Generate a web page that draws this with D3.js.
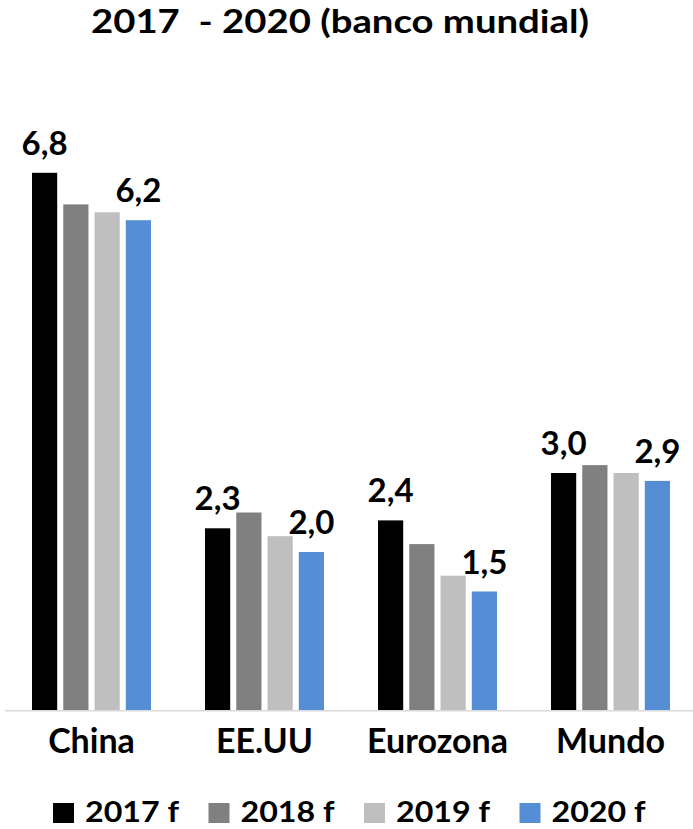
<!DOCTYPE html>
<html>
<head>
<meta charset="utf-8">
<script src="https://cdn.jsdelivr.net/npm/d3@7"></script>
<style>
  body { margin: 0; background: #fff; }
  text { font-family: Lato, "Open Sans", sans-serif; font-weight: bold; fill: #000; }
</style>
</head>
<body>
<svg id="chart"></svg>
<script>
// Data
const categories = ['China', 'EE.UU', 'Eurozona', 'Mundo'];
const series = ['2017 f', '2018 f', '2019 f', '2020 f'];
const values2017 = [6.8, 2.3, 2.4, 3.0];
const values2018 = [6.4, 2.5, 2.1, 3.1];
const values2019 = [6.3, 2.2, 1.7, 3.0];
const values2020 = [6.2, 2.0, 1.5, 2.9];
const seriesValues = [values2017, values2018, values2019, values2020];
const labelledSeries = ['2017 f', '2020 f']; // only these get value labels

const colors = ['#000000', '#808080', '#bfbfbf', '#558ed5'];

// Constants
const width = 693;
const height = 829;
const baseline = 710;

const svg = d3.select('#chart')
  .attr('width', width)
  .attr('height', height);

// Build table
const table = categories.map((c, i) => ({
  category: c,
  bars: series.map((s, j) => ({ series: s, value: seriesValues[j][i], color: colors[j] }))
}));

// Scales
const x0 = d3.scaleBand()
  .domain(categories)
  .range([5, 697])
  .paddingInner(54 / 173)
  .paddingOuter(27 / 173);

const x1 = d3.scaleBand()
  .domain(series)
  .range([0, x0.bandwidth()])
  .paddingInner(6 / 31);

const y = d3.scaleLinear()
  .domain([0, 8])
  .range([baseline, baseline - 79 * 8]);

const locale = d3.formatLocale({ decimal: ',', thousands: '.', grouping: [3], currency: ['', '€'] });
const fmt = locale.format('.1f');

// Title (stretched a bit to the width of the original heavier font)
svg.append('text')
  .attr('x', 340)
  .attr('y', 33)
  .attr('text-anchor', 'middle')
  .attr('font-size', '33px')
  .attr('textLength', 498)
  .attr('lengthAdjust', 'spacingAndGlyphs')
  .style('white-space', 'pre')
  .text('2017  - 2020 (banco mundial)');

// Bars
const groups = svg.selectAll('g.group')
  .data(table)
  .enter()
  .append('g')
  .attr('class', 'group')
  .attr('transform', d => `translate(${x0(d.category)},0)`);

groups.selectAll('rect')
  .data(d => d.bars)
  .enter()
  .append('rect')
  .attr('x', d => x1(d.series))
  .attr('y', d => y(d.value))
  .attr('width', x1.bandwidth())
  .attr('height', d => y(0) - y(d.value))
  .attr('fill', d => d.color);

groups.selectAll('text.value')
  .data(d => d.bars.filter(b => labelledSeries.includes(b.series)))
  .enter()
  .append('text')
  .attr('class', 'value')
  .attr('x', d => x1(d.series) + x1.bandwidth() / 2)
  .attr('y', d => y(d.value) - 18)
  .attr('text-anchor', 'middle')
  .attr('font-size', '33px')
  .text(d => fmt(d.value));

// Axis line
svg.append('line')
  .attr('x1', 5)
  .attr('x2', width)
  .attr('y1', baseline + 0.75)
  .attr('y2', baseline + 0.75)
  .attr('stroke', '#d9d9d9')
  .attr('stroke-width', 1.5);

// Category labels
svg.selectAll('text.cat')
  .data(categories)
  .enter()
  .append('text')
  .attr('class', 'cat')
  .attr('x', d => x0(d) + x0.bandwidth() / 2)
  .attr('y', 753)
  .attr('text-anchor', 'middle')
  .attr('font-size', '34px')
  .text(d => d);

// Legend
const legend = svg.selectAll('g.legend')
  .data(series)
  .enter()
  .append('g')
  .attr('class', 'legend')
  .attr('transform', (d, i) => `translate(${53 + i * 155.5},0)`);

legend.append('rect')
  .attr('x', 0)
  .attr('y', 803)
  .attr('width', 21)
  .attr('height', 20)
  .attr('fill', (d, i) => colors[i]);

legend.append('text')
  .attr('x', 32)
  .attr('y', 822)
  .attr('font-size', '29px')
  .attr('textLength', 94)
  .attr('lengthAdjust', 'spacingAndGlyphs')
  .text(d => d);
</script>
</body>
</html>
